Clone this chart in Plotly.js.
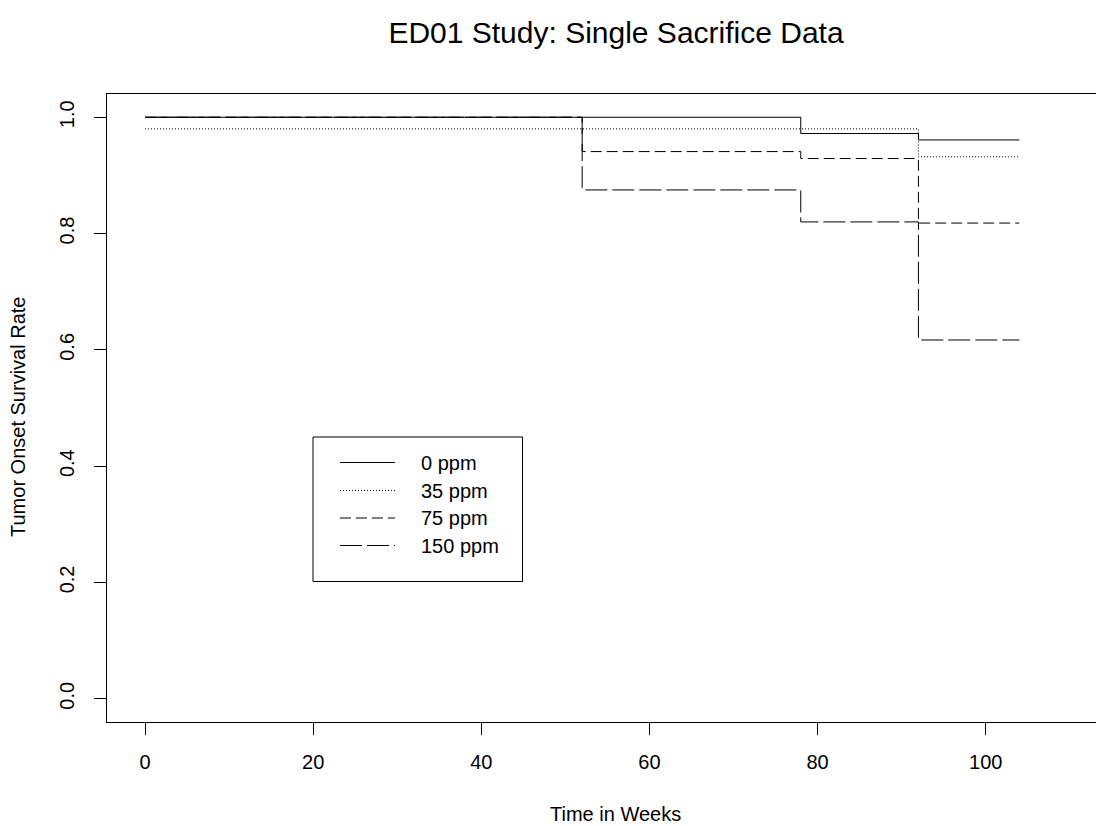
<!DOCTYPE html>
<html>
<head>
<meta charset="utf-8">
<script src="https://cdn.plot.ly/plotly-3.0.1.min.js"></script>
<style>html,body{margin:0;padding:0;background:#fff;}#chart{width:1096px;height:826px;}</style>
</head>
<body>
<div id="chart"></div>
<script>
// ---- data ----
const weeks = [0, 52, 78, 92, 104];
const surv0 = [1.000, 1.000, 0.972, 0.961, 0.961];
const surv35 = [0.980, 0.980, 0.980, 0.932, 0.932];
const surv75 = [1.000, 0.941, 0.929, 0.818, 0.818];
const surv150 = [1.000, 0.875, 0.820, 0.617, 0.617];
const doseLabels = ['0 ppm', '35 ppm', '75 ppm', '150 ppm'];
const xTicks = [0, 20, 40, 60, 80, 100];
const yTicks = [0.0, 0.2, 0.4, 0.6, 0.8, 1.0];

const FONT = 'Liberation Sans, Arial, Helvetica, sans-serif';
const dashes = ['solid', '1px,2px', '11px,5px', '22px,5px'];
const series = [surv0, surv35, surv75, surv150];

const traces = series.map((ys, i) => ({
  x: weeks, y: ys, type: 'scatter', mode: 'lines', name: doseLabels[i],
  line: {shape: 'hv', color: '#000', width: 1, dash: dashes[i]},
  showlegend: false, hoverinfo: 'skip'
}));

// plot area in pixels
const W = 1096, H = 826;
const L = 107, R = 0, T = 94, B = 104;
const pw = W - L - R, ph = H - T - B;
const px = v => (v - L) / pw;          // pixel x -> paper x
const py = v => (H - B - v) / ph;      // pixel y -> paper y

// manual legend (R-style box)
const shapes = [{
  type: 'rect', xref: 'paper', yref: 'paper',
  x0: px(313), x1: px(522.5), y0: py(581.5), y1: py(437),
  line: {color: '#000', width: 1}, fillcolor: 'rgba(0,0,0,0)'
}];
const annotations = [];
const rowY = [462.5, 490.5, 518, 545.5];
doseLabels.forEach((lab, i) => {
  shapes.push({
    type: 'line', xref: 'paper', yref: 'paper',
    x0: px(340), x1: px(395), y0: py(rowY[i]), y1: py(rowY[i]),
    line: {color: '#000', width: 1, dash: dashes[i]}
  });
  annotations.push({
    xref: 'paper', yref: 'paper', x: px(419), y: py(rowY[i]),
    xanchor: 'left', yanchor: 'middle', showarrow: false, text: lab,
    font: {family: FONT, size: 20, color: '#000'}
  });
});
// x axis title (centered on the original R plot region)
annotations.push({
  xref: 'paper', yref: 'paper', x: px(615), y: py(814),
  xanchor: 'center', yanchor: 'middle', showarrow: false, text: 'Time in Weeks',
  font: {family: FONT, size: 20, color: '#000'}
});
annotations.push({
  xref: 'paper', yref: 'paper', x: px(18), y: py(417),
  xanchor: 'center', yanchor: 'middle', showarrow: false, text: 'Tumor Onset Survival Rate',
  textangle: -90, font: {family: FONT, size: 20, color: '#000'}
});

const layout = {
  width: W, height: H,
  margin: {l: L, r: R, t: T, b: B, pad: 0},
  paper_bgcolor: '#fff', plot_bgcolor: '#fff',
  font: {family: FONT, size: 20, color: '#000'},
  title: {
    text: 'ED01 Study: Single Sacrifice Data',
    font: {family: FONT, size: 30, color: '#000'},
    xref: 'paper', x: px(616), xanchor: 'center',
    yref: 'container', y: 1 - 32 / H, yanchor: 'middle'
  },
  xaxis: {
    range: [(L - 145) / 8.407, (W - 145) / 8.407],
    tickvals: xTicks, ticktext: xTicks.map(String),
    ticks: 'outside', ticklen: 12, tickwidth: 1, tickcolor: '#000',
    showline: true, mirror: true, linecolor: '#000', linewidth: 1,
    showgrid: false, zeroline: false,
    tickfont: {family: FONT, size: 20, color: '#000'},
    ticklabelstandoff: 10
  },
  yaxis: {
    range: [-0.04, 1.04],
    tickvals: yTicks, ticktext: yTicks.map(v => v.toFixed(1)),
    ticks: 'outside', ticklen: 12, tickwidth: 1, tickcolor: '#000',
    showline: true, mirror: false, linecolor: '#000', linewidth: 1,
    showgrid: false, zeroline: false, tickangle: -90,
    tickfont: {family: FONT, size: 20, color: '#000'},
    ticklabelstandoff: 12
  },
  shapes: shapes,
  annotations: annotations,
  showlegend: false
};

Plotly.newPlot('chart', traces, layout, {staticPlot: true, displayModeBar: false});
</script>
</body>
</html>
